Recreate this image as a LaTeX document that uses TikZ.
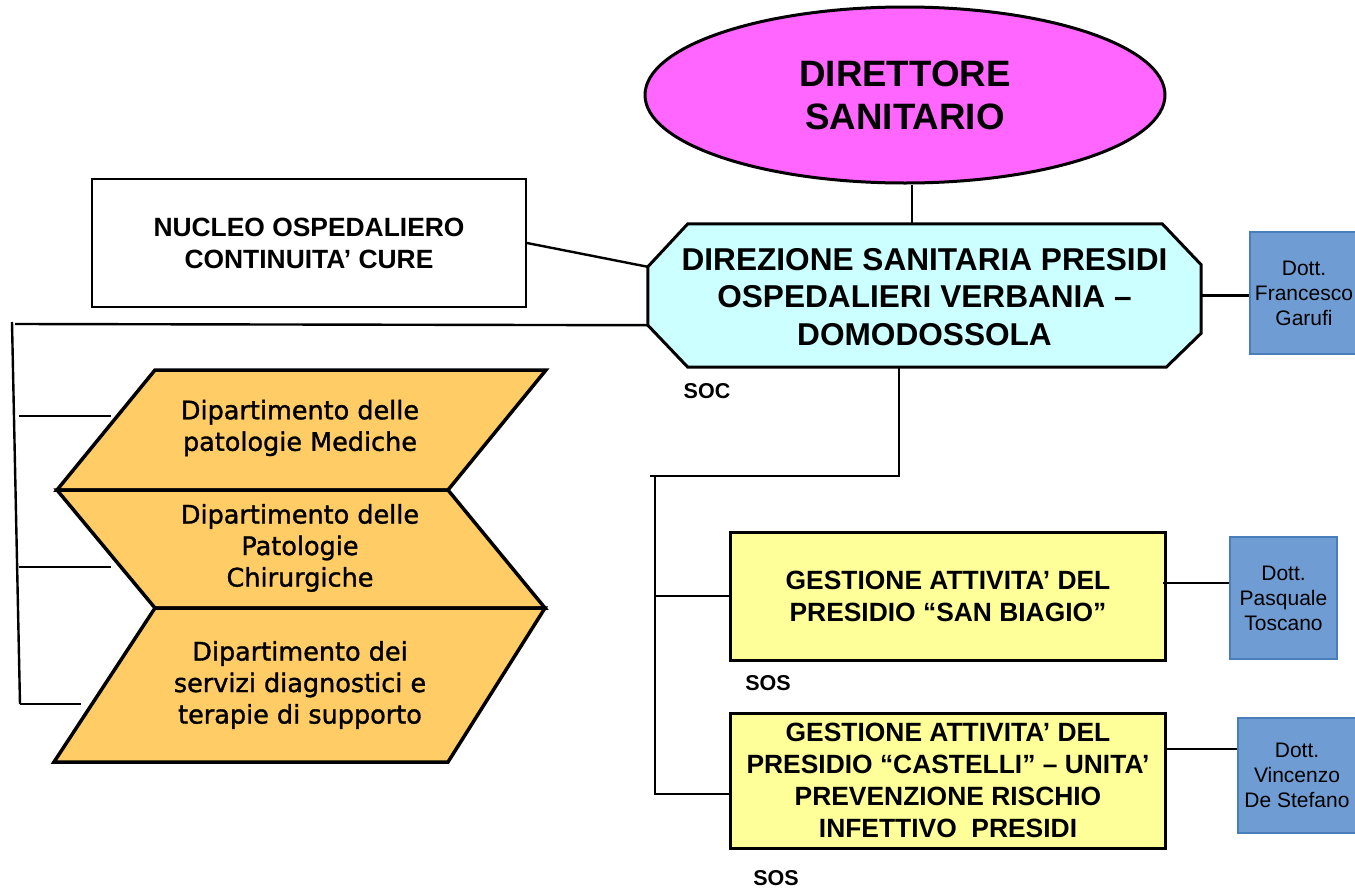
\documentclass[tikz,border=0pt]{standalone}
\usepackage{fontspec}
\setmainfont{Liberation Sans}
\newfontfamily\dejavu[FakeBold=1.3]{DejaVu Sans}
\usetikzlibrary{shapes.geometric,calc}
\definecolor{magfill}{HTML}{FF66FF}
\definecolor{cyanfill}{HTML}{CCFFFF}
\definecolor{yelfill}{HTML}{FFFF99}
\definecolor{orfill}{HTML}{FFCC66}
\definecolor{bluefill}{HTML}{6F9DD3}
\definecolor{blueline}{HTML}{4A7EBB}
\tikzset{
  conn/.style={line width=2.4pt, black},
  capsbox/.style={draw, line width=3pt, inner sep=0pt, align=center,
    font=\bfseries\fontsize{26.4}{32}\selectfont},
  docbox/.style={draw=blueline, fill=bluefill, line width=2.2pt, inner sep=0pt, align=center,
    font=\fontsize{21}{25}\selectfont},
  chev/.style={draw, fill=orfill, line width=3.5pt, line join=miter},
  deptext/.style={align=center, inner sep=0pt, font=\dejavu\fontsize{25.5}{31.5}\selectfont},
  tag/.style={inner sep=0pt, font=\bfseries\fontsize{21.5}{25}\selectfont}
}
\begin{document}
\begin{tikzpicture}[x=1pt,y=-1pt]
\useasboundingbox (0,0) rectangle (1355,889);

% Direttore sanitario
\node[ellipse, draw, fill=magfill, line width=3pt, minimum width=520, minimum height=176,
  inner sep=0pt, align=center, font=\bfseries\fontsize{36.7}{43}\selectfont] (dir) at (905,95)
  {DIRETTORE\\SANITARIO};

% Direzione sanitaria (octagon)
\node[minimum width=553, minimum height=143, inner sep=0pt] (dspbox) at (924.5,295.5) {};
\draw[fill=cyanfill, line width=3pt]
  ($(dspbox.north west)+(40,0)$) -- ($(dspbox.north east)+(-39,0)$) --
  ($(dspbox.north east)+(0,41)$) -- ($(dspbox.south east)+(0,-34)$) --
  ($(dspbox.south east)+(-35,0)$) -- ($(dspbox.south west)+(40,0)$) --
  ($(dspbox.south west)+(0,-42)$) -- ($(dspbox.north west)+(0,43)$) -- cycle;
\node[align=center, inner sep=0pt, font=\bfseries\fontsize{31.6}{37.5}\selectfont] (dsp) at (924.5,297)
  {DIREZIONE SANITARIA PRESIDI\\OSPEDALIERI VERBANIA --\\DOMODOSSOLA};
\coordinate (oclu) at ($(dspbox.north west)+(0,43)$);
\coordinate (ocll) at ($(dspbox.south west)+(0,-42)$);
\node[tag] (soc) at (707,391) {SOC};

% Nucleo ospedaliero
\node[capsbox, line width=2pt, fill=white, minimum width=434, minimum height=128] (nuc) at (309,243)
  {NUCLEO OSPEDALIERO\\CONTINUITA' CURE};

% Blue doctor boxes
\node[docbox, minimum width=108, minimum height=122] (b1) at (1304,293)
  {Dott.\\Francesco\\Garufi};
\node[docbox, minimum width=107, minimum height=122] (b2) at (1283.5,598)
  {Dott.\\Pasquale\\Toscano};
\node[docbox, minimum width=118, minimum height=115] (b3) at (1297,775.5)
  {Dott.\\Vincenzo\\De Stefano};

% Yellow boxes
\node[capsbox, fill=yelfill, minimum width=435, minimum height=128] (g1) at (948,596)
  {GESTIONE ATTIVITA' DEL\\PRESIDIO ``SAN BIAGIO''};
\node[capsbox, fill=yelfill, minimum width=435, minimum height=135] (g2) at (948,780.5)
  {GESTIONE ATTIVITA' DEL\\PRESIDIO ``CASTELLI'' -- UNITA'\\PREVENZIONE RISCHIO\\INFETTIVO\ \ PRESIDI};
\node[tag] (sos1) at (768,683) {SOS};
\node[tag] (sos2) at (776,878) {SOS};

% Chevrons
\draw[chev] (155,370) -- (546,370) -- (448,490) -- (57,490) -- cycle;
\draw[chev] (57,490) -- (448,490) -- (545,608) -- (155,608) -- cycle;
\draw[chev] (155,608) -- (545,608) -- (448,762) -- (54,762) -- cycle;
\node[deptext] (d1) at (300,428) {Dipartimento delle\\patologie Mediche};
\node[deptext] (d2) at (300,548) {Dipartimento delle\\Patologie\\Chirurgiche};
\node[deptext] (d3) at (300,685) {Dipartimento dei\\servizi diagnostici e\\terapie di supporto};

% Connectors: top
\draw[conn] ($(dir.south)+(7,0)$) -- ($(dspbox.north)+(-12.5,0)$);
\draw[conn] (nuc.east) -- (oclu);
\draw[conn] (dspbox.east) -- (dspbox.east -| b1.west);

% Left tree
\coordinate (lt) at (12,322);
\coordinate (lb) at (20,704);
\draw[conn] (ocll) -- (15,324);
\draw[conn] (lt) -- (lb);
\coordinate (e1) at (111,416);
\coordinate (e2) at (111,567);
\coordinate (e3) at (81,704);
\draw[conn] (19,416) -- (e1);
\draw[conn] (19,567) -- (e2);
\draw[conn] (lb) -- (e3);

% Right tree
\coordinate (rt) at (899,476);
\coordinate (rl) at (655,476);
\draw[conn] ($(dspbox.south)+(-25.5,0)$) -- (rt) -- (650,476);
\draw[conn] (rl) -- (655,794) -- (g2.west |- 655,794);
\draw[conn] (655,596) -- (g1.west);

% Doctors
\coordinate (g1r) at ($(g1.east)+(-4,-13)$);
\coordinate (b2l) at (b2.west |- g1r);
\draw[conn] (g1r) -- (b2l);
\coordinate (g2r) at ($(g2.east)+(0,-31.5)$);
\coordinate (b3l) at (b3.west |- g2r);
\draw[conn] (g2r) -- (b3l);
\end{tikzpicture}
\end{document}
